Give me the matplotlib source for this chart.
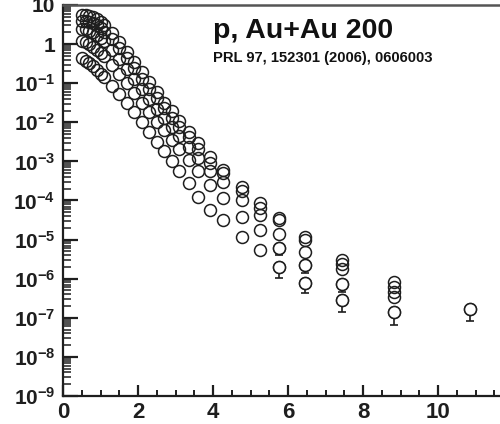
import numpy as np
import matplotlib
matplotlib.use('Agg')
import matplotlib.pyplot as plt
from matplotlib.ticker import LogLocator, MultipleLocator, FuncFormatter, NullFormatter

# proton pT spectra, five centrality classes (most central first)
pt = [0.5, 0.6, 0.7, 0.8, 0.9, 1.0, 1.1,
      1.3, 1.5, 1.7, 1.9, 2.1, 2.3, 2.5, 2.7, 2.9, 3.1,
      3.35, 3.6, 3.92, 4.27, 4.77, 5.25, 5.77, 6.45, 7.45, 8.83, 10.85]

yieldA = [5.5, 5.4, 5.1, 4.8, 4.3, 3.6, 3.0,
          1.9, 1.12, 0.63, 0.35, 0.19, 0.105, 0.058, 0.032, 0.019, 0.011,
          5.8e-3, 3.0e-3, 1.3e-3, 6.0e-4, 2.2e-4, 8.7e-5, 3.5e-5, 1.2e-5, 3.0e-6, 8.3e-7, 1.7e-7]
yieldB = [4.0, 3.9, 3.7, 3.4, 3.0, 2.6, 2.1,
          1.35, 0.78, 0.44, 0.24, 0.13, 0.072, 0.041, 0.023, 0.013, 7.8e-3,
          4.1e-3, 2.1e-3, 9.1e-4, 5.0e-4, 1.7e-4, 6.3e-5, 3.2e-5, 1.0e-5, 2.4e-6, 6.2e-7]
yieldC = [2.5, 2.4, 2.2, 2.0, 1.74, 1.45, 1.17,
          0.72, 0.42, 0.23, 0.13, 0.071, 0.040, 0.022, 0.013, 7.4e-3, 4.4e-3,
          2.3e-3, 1.2e-3, 5.6e-4, 3.0e-4, 1.0e-4, 4.3e-5, 1.4e-5, 4.8e-6, 1.8e-6, 4.6e-7]
yieldD = [1.2, 1.1, 0.98, 0.85, 0.72, 0.60, 0.49,
          0.30, 0.17, 0.10, 0.056, 0.032, 0.018, 0.010, 6.2e-3, 3.6e-3, 2.1e-3,
          1.1e-3, 5.8e-4, 2.5e-4, 1.15e-4, 3.8e-5, 1.8e-5, 6.2e-6, 2.2e-6, 7.2e-7, 3.4e-7]
yieldE = [0.44, 0.38, 0.32, 0.27, 0.22, 0.17, 0.14,
          0.087, 0.052, 0.031, 0.018, 0.010, 5.6e-3, 3.2e-3, 1.8e-3, 1.0e-3, 5.6e-4,
          2.8e-4, 1.26e-4, 5.8e-5, 3.2e-5, 1.17e-5, 5.4e-6, 2.0e-6, 7.8e-7, 2.9e-7, 1.4e-7]

# lower error bars (0 = not drawn)
errA = [0]*27 + [8.7e-8]
errD = [0]*23 + [2.1e-6, 8.0e-7, 2.7e-7, 0]
errE = [0]*23 + [9.6e-7, 3.5e-7, 1.5e-7, 7.4e-8]

plt.rcParams['font.family'] = 'Liberation Sans'
plt.rcParams['font.weight'] = 'bold'
plt.rcParams['mathtext.fontset'] = 'custom'
plt.rcParams['mathtext.bf'] = 'Liberation Sans:bold'
plt.rcParams['mathtext.rm'] = 'Liberation Sans:bold'

ink = '#1e1e1e'
fig = plt.figure(figsize=(5.0, 4.24), dpi=100)
ax = fig.add_axes([63/500, 28/424, 437/500, 391/424])

for ys, errs in [(yieldA, errA), (yieldB, None), (yieldC, None), (yieldD, errD), (yieldE, errE)]:
    x = np.array(pt[:len(ys)])
    y = np.array(ys)
    ax.plot(x, y, 'o', ms=8.6, mfc='none', mec=ink, mew=1.1, zorder=3)
    if errs is not None:
        e = np.array(errs)
        sel = e > 0
        ax.errorbar(x[sel], y[sel], yerr=[e[sel], np.zeros(sel.sum())], fmt='none',
                    ecolor=ink, elinewidth=1.2, capsize=2.6, capthick=1.2, zorder=2)
        # hide the bar inside the open circle
        ax.plot(x[sel], y[sel], 'o', ms=8.6, mfc='white', mec=ink, mew=1.1, zorder=4)

ax.set_yscale('log')
ax.set_ylim(1e-9, 10)
ax.set_xlim(0, 11.65)

ax.yaxis.set_major_locator(LogLocator(base=10, numticks=20))
ax.yaxis.set_minor_locator(LogLocator(base=10, subs=np.arange(2, 10), numticks=20))
ax.yaxis.set_minor_formatter(NullFormatter())

def ylab(v, pos):
    if v >= 9.9:
        return '10'
    if 0.99 < v < 1.01:
        return '1'
    return r'$\mathbf{10^{%d}}$' % int(round(np.log10(v)))

ax.yaxis.set_major_formatter(FuncFormatter(ylab))
ax.xaxis.set_major_locator(MultipleLocator(2))
ax.xaxis.set_minor_locator(MultipleLocator(0.5))

ax.tick_params(axis='y', which='major', direction='in', length=10.5, width=1.6,
               labelsize=15, pad=5.5, colors=ink)
ax.tick_params(axis='y', which='minor', direction='in', length=5.5, width=1.1, colors=ink)
ax.tick_params(axis='x', which='major', direction='in', length=8, width=1.6,
               labelsize=16, pad=4, colors=ink)
ax.tick_params(axis='x', which='minor', direction='in', length=4, width=1.4, colors=ink)

ax.spines['right'].set_visible(False)
ax.spines['left'].set_linewidth(1.6)
ax.spines['bottom'].set_linewidth(1.6)
ax.spines['left'].set_color(ink)
ax.spines['bottom'].set_color(ink)
ax.spines['top'].set_linewidth(1.8)
ax.spines['top'].set_color('#555555')

fig.text(213/500, 1 - 38/424, 'p, Au+Au 200', fontsize=20.5, fontweight='bold',
         color='#111111', ha='left', va='baseline')
fig.text(213/500, 1 - 62/424, 'PRL 97, 152301 (2006), 0606003', fontsize=10.6,
         fontweight='bold', color='#111111', ha='left', va='baseline')

fig.savefig('out.png', dpi=100)
